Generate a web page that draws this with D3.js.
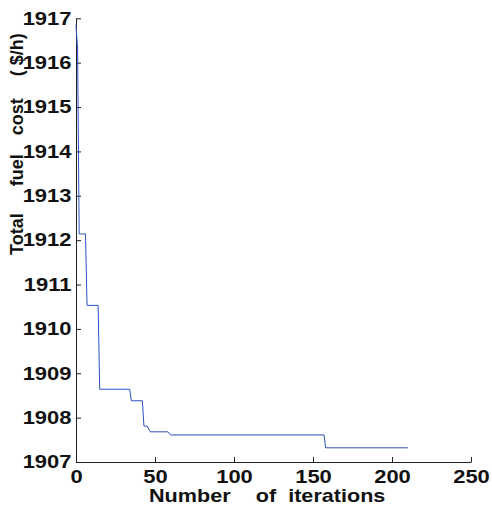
<!DOCTYPE html>
<meta charset="utf-8">
<script src="https://d3js.org/d3.v7.min.js"></script>
<style>
body { margin: 0; background: #fff; }
text { font-family: "Liberation Sans", Arial, sans-serif; font-weight: bold; }
</style>
<div id="chart"></div>
<script>

// convergence data (iteration, cost)
var iterations = [0, 1, 2, 6, 7, 14, 15, 34, 35, 42, 43, 45, 47, 58, 60, 157, 158, 210];
var fuelCost = [1916.85, 1916.3, 1912.14, 1912.14, 1910.53, 1910.53, 1908.64, 1908.64, 1908.38, 1908.38,
                1907.81, 1907.81, 1907.68, 1907.68, 1907.61, 1907.61, 1907.32, 1907.32];
var xTicks = [0, 50, 100, 150, 200, 250];
var yTicks = [1907, 1908, 1909, 1910, 1911, 1912, 1913, 1914, 1915, 1916, 1917];

var W = 492, H = 505;
var margin = {top: 18.3, right: 21, bottom: 43, left: 76},
    width = W - margin.left - margin.right,
    height = H - margin.top - margin.bottom;

var svg = d3.select("#chart").append("svg")
    .attr("width", W)
    .attr("height", H)
  .append("g")
    .attr("transform", "translate(" + margin.left + "," + margin.top + ")");

var x = d3.scaleLinear().domain([0, 250]).range([0, width]);
var y = d3.scaleLinear().domain([1907, 1917]).range([height, 0]);

// stretch text horizontally (the original image is wider than tall)
function stretch(sel, k) {
  sel.each(function() {
    var w = this.getComputedTextLength();
    d3.select(this).attr("textLength", w * k).attr("lengthAdjust", "spacingAndGlyphs");
  });
}

var xAxis = svg.append("g")
    .attr("transform", "translate(0," + height + ")")
    .call(d3.axisBottom(x).tickValues(xTicks).tickSizeInner(-5).tickSizeOuter(0).tickPadding(8));
var yAxis = svg.append("g")
    .call(d3.axisLeft(y).tickValues(yTicks).tickSizeInner(-5).tickSizeOuter(0).tickPadding(4.5).tickFormat(d3.format("d")));

[xAxis, yAxis].forEach(function(a) {
  a.selectAll("path, line").attr("stroke", "#222").attr("stroke-width", 1);
  a.selectAll("text").attr("font-size", 18).attr("fill", "#111")
    .style("font-family", "'Liberation Sans', Arial, sans-serif").style("font-weight", "bold");
  a.selectAll("text").call(stretch, 1.22);
});

// line
var pts = iterations.map(function(d, i) { return [d, fuelCost[i]]; });
svg.append("path")
  .datum(pts)
  .attr("fill", "none")
  .attr("stroke", "#2d4fbf")
  .attr("stroke-width", 1)
  .attr("d", d3.line()
    .x(function(d) { return x(d[0]); })
    .y(function(d) { return y(d[1]); }));

// x label
var xl = d3.select("svg").append("g")
  .attr("transform", "translate(149,501.5) scale(1.2,1)")
  .append("text")
  .attr("font-size", 18)
  .attr("fill", "#111");
xl.append("tspan").text("Number");
xl.append("tspan").attr("dx", 21).text("of");
xl.append("tspan").attr("dx", 10).text("iterations");

// y label
var yl = d3.select("svg").append("text")
  .attr("transform", "rotate(-90)")
  .attr("x", -255)
  .attr("y", 23)
  .attr("font-size", 18)
  .attr("fill", "#111");
yl.append("tspan").text("Total");
yl.append("tspan").attr("dx", 27).text("fuel");
yl.append("tspan").attr("dx", 19).text("cost");
yl.append("tspan").attr("dx", 22).text("( $/h)");

</script>
